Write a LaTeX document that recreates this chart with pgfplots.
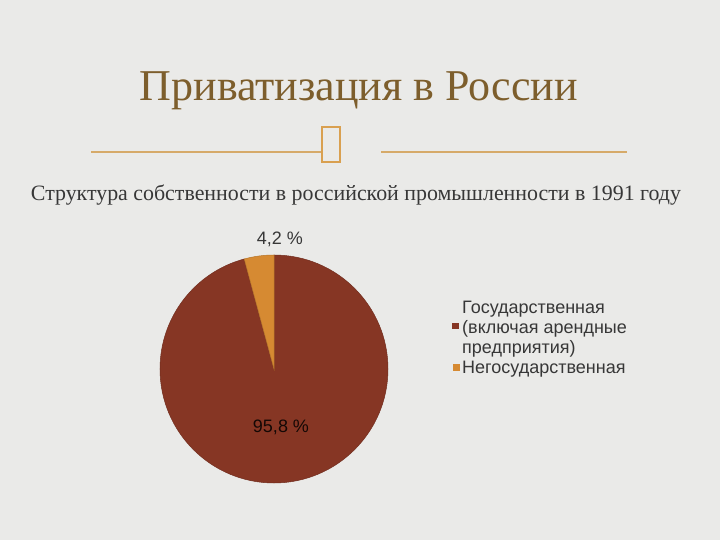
\documentclass[border=0pt]{standalone}
\usepackage{pgfplots}
\usepackage{pgfplotstable}
\pgfplotsset{compat=1.18}
\usepackage{fontspec}
\setmainfont{Liberation Serif}
\newfontfamily\arialfont{Liberation Sans}
\definecolor{bgc}{RGB}{234,234,232}
\definecolor{vigc}{RGB}{222,221,203}
\definecolor{titlec}{RGB}{125,94,44}
\definecolor{decoc}{RGB}{214,170,105}
\definecolor{boxc}{RGB}{217,160,80}
\definecolor{gosred}{RGB}{134,54,36}
\definecolor{negorange}{RGB}{214,138,50}
\definecolor{txtc}{RGB}{55,55,55}
\pgfdeclareradialshading{vignette}{\pgfpoint{0bp}{0bp}}{color(0bp)=(bgc); color(48bp)=(bgc); color(60bp)=(bgc!60!vigc); color(71bp)=(vigc)}

\pgfplotstableread{
label value
gos 95.8
negos 4.2
}\datatable

\begin{document}
\begin{tikzpicture}
\useasboundingbox (0,0) rectangle (720bp,540bp);
\shade[shading=vignette] (0,0) rectangle (720bp,540bp);
\begin{axis}[
  at={(0,0)}, anchor=south west,
  width=720bp, height=540bp, scale only axis,
  xmin=0, xmax=720, ymin=0, ymax=540,
  hide axis, clip=false,
]
% title and subtitle
\node[anchor=base, text=titlec, font=\fontsize{44bp}{50bp}\selectfont] at (axis cs:359,439) {Приватизация в России};
\node[anchor=base, text=txtc, font=\fontsize{21.9bp}{26bp}\selectfont] at (axis cs:356,339) {Структура собственности в российской промышленности в 1991 году};
% decoration
\draw[decoc, line width=1.2bp] (axis cs:91,388) -- (axis cs:322,388);
\draw[decoc, line width=1.2bp] (axis cs:381,388) -- (axis cs:627,388);
\draw[boxc, line width=2.4bp] (axis cs:322,378) rectangle (axis cs:340,413);
% pie slices from the table
\pgfplotsextra{
  \gdef\curangle{90}
  \foreach \i/\col in {0/gosred,1/negorange}{
    \pgfplotstablegetelem{\i}{value}\of\datatable
    \pgfmathsetmacro{\endangle}{\curangle - 3.6*\pgfplotsretval}
    \fill[\col, draw=\col!85!black, line width=0.5bp] (axis cs:274,171) -- ++(\curangle:114bp)
      arc[start angle=\curangle, end angle=\endangle, radius=114bp] -- cycle;
    \xdef\curangle{\endangle}
  }
}
% data labels
\node[anchor=base, text=txtc, font=\arialfont\fontsize{18bp}{21bp}\selectfont] at (axis cs:280,295) {4,2 \%};
\node[anchor=base, text=black!85!gosred, font=\arialfont\fontsize{18bp}{21bp}\selectfont] at (axis cs:281,107) {95,8 \%};
% legend
\fill[gosred] (axis cs:452,210.7) rectangle (axis cs:459,217.3);
\fill[negorange] (axis cs:453,168.5) rectangle (axis cs:460,175.5);
\node[anchor=base west, inner sep=0pt, text=txtc, font=\arialfont\fontsize{18bp}{21bp}\selectfont] at (axis cs:462,226) {Государственная};
\node[anchor=base west, inner sep=0pt, text=txtc, font=\arialfont\fontsize{18bp}{21bp}\selectfont] at (axis cs:462,206) {(включая арендные};
\node[anchor=base west, inner sep=0pt, text=txtc, font=\arialfont\fontsize{18bp}{21bp}\selectfont] at (axis cs:462,186) {предприятия)};
\node[anchor=base west, inner sep=0pt, text=txtc, font=\arialfont\fontsize{18bp}{21bp}\selectfont] at (axis cs:462,166) {Негосударственная};
\end{axis}
\end{tikzpicture}
\end{document}
